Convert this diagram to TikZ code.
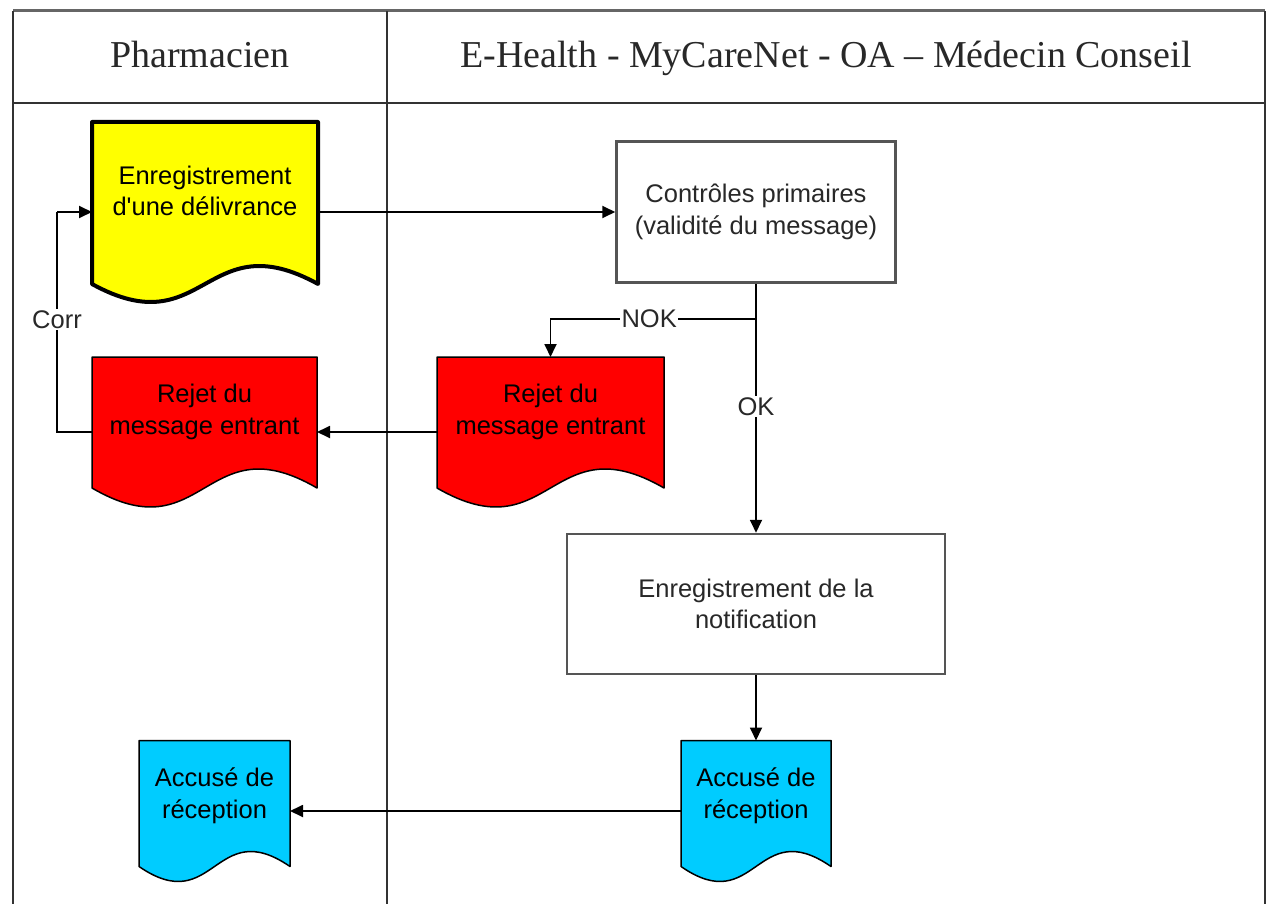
\documentclass[tikz,border=0pt]{standalone}
\usepackage{fontspec}
\setmainfont{Liberation Serif}
\newfontfamily\flowfont{Liberation Sans}
\usetikzlibrary{arrows.meta,calc}
\pgfdeclarelayer{background}
\pgfdeclarelayer{canvas}
\pgfsetlayers{canvas,background,main}

\definecolor{docyellow}{RGB}{255,255,0}
\definecolor{docred}{RGB}{255,0,0}
\definecolor{doccyan}{RGB}{0,204,255}
\definecolor{boxgray}{RGB}{85,85,85}
\definecolor{lanegray}{RGB}{50,50,50}
\definecolor{inkgray}{RGB}{40,40,40}

% Flowchart "document" outline drawn behind a named node:
% #1 node name, #2 fill colour, #3 depth of the wavy bottom, #4 line width
\newcommand{\docshape}[4]{%
  \begin{pgfonlayer}{background}
    \draw[line width=#4, fill=#2, line join=round]
      ($(#1.south west)+(0,-#3)$) -- (#1.north west) -- (#1.north east)
      -- ($(#1.south east)+(0,-#3)$)
      .. controls ($(#1.south)+(0,{-#3-3.46*#3})$) and ($(#1.south)+(0,{-#3+3.46*#3})$)
      .. ($(#1.south west)+(0,-#3)$) -- cycle;
  \end{pgfonlayer}}

\tikzset{
  lanehead/.style={font=\fontsize{38}{46}\selectfont, text=inkgray, anchor=base, inner sep=0pt},
  laneline/.style={draw=lanegray, line width=2pt},
  docnode/.style={rectangle, inner sep=0pt, outer sep=0pt},
  doctext/.style={align=center, font=\flowfont\fontsize{25.5}{31.5}\selectfont, text=black, inner sep=0pt},
  procbox/.style={rectangle, draw=boxgray, line width=2.5pt, fill=white, align=center,
    font=\flowfont\fontsize{25.5}{31.5}\selectfont, text=inkgray, inner sep=0pt},
  flow/.style={draw=black, line width=1.8pt, -{Triangle[length=13pt,width=12pt]}},
  flowplain/.style={draw=black, line width=1.8pt},
  lbl/.style={fill=white, font=\flowfont\fontsize{25.5}{31.5}\selectfont, text=inkgray, inner sep=1.5pt}
}

\begin{document}
\begin{tikzpicture}[x=1pt, y=-1pt]
  \useasboundingbox (0,0) rectangle (1269,904);
  \begin{pgfonlayer}{canvas}
    \fill[white] (0,0) rectangle (1269,904);
  \end{pgfonlayer}

  % swim lanes
  \draw[draw=gray!80!black, line width=3pt] (13,11) -- (1265,11);
  \draw[laneline] (13,11) -- (13,904);
  \draw[laneline] (1265,11) -- (1265,904);
  \draw[laneline] (387,11) -- (387,904);
  \draw[laneline] (13,103) -- (1265,103);
  \node[lanehead] (lane1) at (200,68) {Pharmacien};
  \node[lanehead] (lane2) at (826,68) {E-Health - MyCareNet - OA – Médecin Conseil};

  % documents
  \node[docnode, minimum width=226pt, minimum height=180pt] (reg) at (205,212) {};
  \docshape{reg}{docyellow}{18}{4pt}
  \node[doctext] (regtxt) at ($(reg)+(0,-21)$) {Enregistrement\\d'une délivrance};

  \node[docnode, minimum width=227pt, minimum height=150pt] (rejR) at (550.5,432) {};
  \docshape{rejR}{docred}{19}{1.5pt}
  \node[doctext] (rejRtxt) at ($(rejR)+(0,-20)$) {Rejet du\\message entrant};

  \node[docnode, minimum width=225pt, minimum height=150pt] (rejL) at (204.5,432) {};
  \docshape{rejL}{docred}{19}{1.5pt}
  \node[doctext] (rejLtxt) at ($(rejL)+(0,-20)$) {Rejet du\\message entrant};

  \node[docnode, minimum width=150pt, minimum height=141pt] (accR) at (756,811) {};
  \docshape{accR}{doccyan}{15}{1.5pt}
  \node[doctext] (accRtxt) at ($(accR)+(0,-15)$) {Accusé de\\réception};

  \node[docnode, minimum width=151pt, minimum height=141pt] (accL) at (214.5,811) {};
  \docshape{accL}{doccyan}{15}{1.5pt}
  \node[doctext] (accLtxt) at ($(accL)+(0,-15)$) {Accusé de\\réception};

  % processes
  \node[procbox, minimum width=279pt, minimum height=141pt] (ctrl) at (756,212)
    {Contrôles primaires\\(validité du message)};
  \node[procbox, minimum width=378pt, minimum height=140pt] (notif) at (756,604)
    {Enregistrement de la\\notification};

  % connectors
  \coordinate (split) at ($(ctrl.south)+(0,35)$);
  \coordinate (corrtop) at (57,212);
  \draw[flow] (reg.east) -- (ctrl.west);
  \draw[flowplain] (ctrl.south) -- (split);
  \draw[flow] (split) -| node[lbl, pos=0.26] {NOK} (rejR.north);
  \draw[flow] (split) -- (notif.north);
  \node[lbl] (oklbl) at ($(split)!0.41!(notif.north)$) {OK};
  \draw[flow] (rejR.west) -- (rejL.east);
  \draw[flowplain] (rejL.west) -| node[lbl, pos=0.755] {Corr} (corrtop);
  \draw[flow] (corrtop) -- (reg.west);
  \draw[flow] (notif.south) -- (accR.north);
  \draw[flow] (accR.west) -- (accL.east);
\end{tikzpicture}
\end{document}
